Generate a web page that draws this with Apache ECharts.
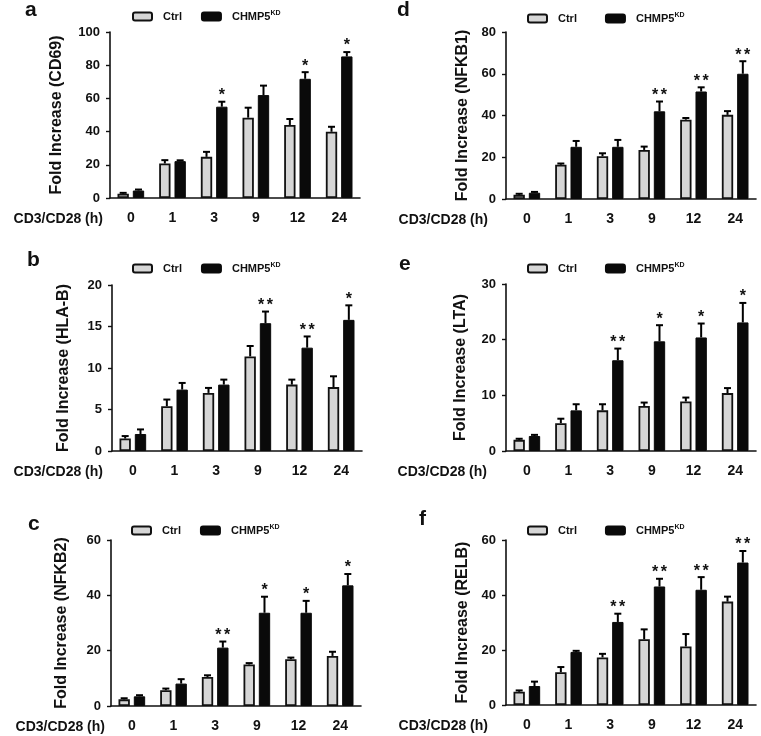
<!DOCTYPE html>
<html>
<head>
<meta charset="utf-8">
<script src="https://cdn.jsdelivr.net/npm/echarts@6/dist/echarts.min.js"></script>
<style>
html,body{margin:0;padding:0;background:#fff;}
#chart{width:761px;height:736px;}
</style>
</head>
<body>
<div id="chart"></div>
<script>
// ---------------- data ----------------
const categories = ['0', '1', '3', '9', '12', '24'];
const seriesNames = ['Ctrl', 'CHMP5'];
const xAxisTitle = 'CD3/CD28 (h)';

// panel a : CD69
const ctrlA = [2.6, 20.8, 24.8, 48.4, 44.0, 39.9];
const ctrlErrA = [0.5, 2.0, 3.0, 6.0, 3.6, 3.0];
const kdA = [4.5, 22.2, 55.0, 62.0, 71.8, 85.3];
const kdErrA = [0.6, 0.5, 3.0, 5.7, 4.0, 2.6];
const starsA = ['', '', '*', '', '*', '*'];

// panel b : HLA-B
const ctrlB = [1.5, 5.4, 7.0, 11.4, 8.0, 7.7];
const ctrlErrB = [0.3, 0.8, 0.6, 1.25, 0.6, 1.3];
const kdB = [2.05, 7.4, 8.0, 15.4, 12.45, 15.8];
const kdErrB = [0.55, 0.8, 0.6, 1.4, 1.35, 1.75];
const starsB = ['', '', '', '**', '**', '*'];

// panel c : NFKB2
const ctrlC = [2.4, 5.7, 10.5, 15.0, 16.9, 18.1];
const ctrlErrC = [0.4, 0.6, 0.6, 0.5, 0.6, 1.5];
const kdC = [3.5, 8.1, 21.1, 33.7, 33.7, 43.6];
const kdErrC = [0.4, 1.6, 2.2, 5.8, 4.3, 4.1];
const starsC = ['', '', '**', '*', '*', '*'];

// panel d : NFKB1
const ctrlD = [2.0, 16.4, 20.5, 23.5, 38.0, 40.3];
const ctrlErrD = [0.5, 0.6, 1.4, 1.6, 0.8, 1.8];
const kdD = [3.0, 25.0, 25.0, 42.0, 51.5, 60.0];
const kdErrD = [0.4, 2.8, 3.3, 4.7, 2.0, 6.0];
const starsD = ['', '', '', '**', '**', '**'];

// panel e : LTA
const ctrlE = [2.0, 5.0, 7.3, 8.1, 8.9, 10.4];
const ctrlErrE = [0.2, 0.8, 1.1, 0.6, 0.7, 0.9];
const kdE = [2.7, 7.3, 16.3, 19.7, 20.4, 23.1];
const kdErrE = [0.2, 1.1, 2.1, 2.9, 2.5, 3.5];
const starsE = ['', '', '**', '*', '*', '*'];

// panel f : RELB
const ctrlF = [4.8, 11.9, 17.3, 23.9, 21.3, 37.6];
const ctrlErrF = [0.5, 1.9, 1.3, 3.6, 4.5, 1.8];
const kdF = [6.9, 19.3, 30.2, 43.1, 41.9, 51.8];
const kdErrF = [1.6, 0.4, 3.0, 2.8, 4.6, 4.2];
const starsF = ['', '', '**', '**', '**', '**'];

const panelLetters = ['a', 'b', 'c', 'd', 'e', 'f'];
const yTitles = ['Fold Increase (CD69)', 'Fold Increase (HLA-B)', 'Fold Increase (NFKB2)',
                 'Fold Increase (NFKB1)', 'Fold Increase (LTA)', 'Fold Increase (RELB)'];
const yMax = [100, 20, 60, 80, 30, 60];
const yInterval = [20, 5, 20, 20, 10, 20];

// ---------------- layout ----------------
const FONT = "'Liberation Sans', Arial, sans-serif";
const CAT_GAP = 0.36, BAR_GAP = 0.35;
const panels = [
  {ctrl: ctrlA, ce: ctrlErrA, kd: kdA, ke: kdErrA, st: starsA,
   grid: {left: 110, top: 32, width: 250, height: 166}, letter: [25, 0], legend: [132, 10, 19], nameGap: 45, xNameGap: 7},
  {ctrl: ctrlB, ce: ctrlErrB, kd: kdB, ke: kdErrB, st: starsB,
   grid: {left: 112, top: 285, width: 250, height: 166}, letter: [27, 250], legend: [132, 262, 19], nameGap: 40, xNameGap: 9},
  {ctrl: ctrlC, ce: ctrlErrC, kd: kdC, ke: kdErrC, st: starsC,
   grid: {left: 111, top: 540, width: 250, height: 166}, letter: [28, 514], legend: [131, 524, 19], nameGap: 41, xNameGap: 6},
  {ctrl: ctrlD, ce: ctrlErrD, kd: kdD, ke: kdErrD, st: starsD,
   grid: {left: 506, top: 32, width: 250, height: 167}, letter: [397, 0], legend: [527, 12, 28], nameGap: 35, xNameGap: 18},
  {ctrl: ctrlE, ce: ctrlErrE, kd: kdE, ke: kdErrE, st: starsE,
   grid: {left: 506, top: 284, width: 250, height: 167}, letter: [399, 254], legend: [527, 262, 28], nameGap: 37, xNameGap: 19},
  {ctrl: ctrlF, ce: ctrlErrF, kd: kdF, ke: kdErrF, st: starsF,
   grid: {left: 506, top: 540, width: 250, height: 165}, letter: [419, 509], legend: [527, 524, 28], nameGap: 35, xNameGap: 18}
];

function errRenderer(side, stars) {
  return function (params, api) {
    const i = api.value(0), v = api.value(1), e = api.value(2);
    const catW = api.size([1, 0])[0];
    const bw = catW * (1 - CAT_GAP) / (2 + BAR_GAP);
    const off = side * bw * (1 + BAR_GAP) / 2;
    const base = api.coord([i, v]);
    const top = api.coord([i, v + e]);
    const x = base[0] + off;
    const children = [
      {type: 'line', shape: {x1: x, y1: base[1], x2: x, y2: top[1]}, style: {stroke: '#000', lineWidth: 2}},
      {type: 'line', shape: {x1: x - 3.5, y1: top[1], x2: x + 3.5, y2: top[1]}, style: {stroke: '#000', lineWidth: 2}}
    ];
    const s = stars ? stars[params.dataIndex] : '';
    for (let k = 0; k < s.length; k++) {
      children.push({
        type: 'text',
        style: {x: x + (k - (s.length - 1) / 2) * 8.7, y: top[1] + 2, text: '*',
                fill: '#111', font: 'bold 16px ' + FONT, align: 'center', verticalAlign: 'bottom'}
      });
    }
    return {type: 'group', children: children};
  };
}

const option = {
  backgroundColor: '#fff',
  animation: false,
  textStyle: {fontFamily: FONT},
  title: [], legend: [], grid: [], xAxis: [], yAxis: [], series: []
};

panels.forEach((p, idx) => {
  option.grid.push(Object.assign({containLabel: false}, p.grid));
  option.title.push({
    text: panelLetters[idx], left: p.letter[0], top: p.letter[1], padding: 0,
    textStyle: {fontSize: 21, fontWeight: 'bold', color: '#111', fontFamily: FONT}
  });
  option.legend.push({
    data: seriesNames, left: p.legend[0], top: p.legend[1], itemGap: p.legend[2],
    itemWidth: 19, itemHeight: 8, icon: 'roundRect', padding: 0, selectedMode: false,
    formatter: n => n === 'CHMP5' ? '{m|CHMP5}{s|KD}' : '{m|' + n + '}',
    textStyle: {
      color: '#111', fontFamily: FONT,
      rich: {
        m: {fontSize: 11, fontWeight: 'bold', color: '#111', padding: [0, 0, 0, 6], fontFamily: FONT},
        s: {fontSize: 7, fontWeight: 'bold', color: '#111', verticalAlign: 'top', padding: [0, 0, 6, 0], fontFamily: FONT}
      }
    }
  });
  option.xAxis.push({
    type: 'category', gridIndex: idx, data: categories,
    name: xAxisTitle, nameLocation: 'start', nameGap: p.xNameGap,
    nameTextStyle: {fontSize: 14, fontWeight: 'bold', color: '#111', align: 'right', verticalAlign: 'top',
                    padding: [14, 0, 0, 0], fontFamily: FONT},
    axisLine: {lineStyle: {color: '#111', width: 1.6}},
    axisTick: {alignWithLabel: true, length: 4, lineStyle: {color: '#111', width: 1.4}},
    axisLabel: {fontSize: 14, fontWeight: 'bold', color: '#111', margin: 13, fontFamily: FONT}
  });
  option.yAxis.push({
    type: 'value', gridIndex: idx, min: 0, max: yMax[idx], interval: yInterval[idx],
    name: yTitles[idx], nameLocation: 'middle', nameGap: p.nameGap,
    nameTextStyle: {fontSize: 16, fontWeight: 'bold', color: '#111', fontFamily: FONT},
    axisLine: {show: true, lineStyle: {color: '#111', width: 1.6}},
    axisTick: {show: true, length: 4, lineStyle: {color: '#111', width: 1.4}},
    splitLine: {show: false},
    axisLabel: {fontSize: 13, fontWeight: 'bold', color: '#111', margin: 10, fontFamily: FONT}
  });
  option.series.push({
    name: 'Ctrl', type: 'bar', xAxisIndex: idx, yAxisIndex: idx, data: p.ctrl,
    barGap: (BAR_GAP * 100) + '%', barCategoryGap: (CAT_GAP * 100) + '%',
    itemStyle: {color: '#d6d6d6', borderColor: '#111', borderWidth: 1.8}
  });
  option.series.push({
    name: 'CHMP5', type: 'bar', xAxisIndex: idx, yAxisIndex: idx, data: p.kd,
    barGap: (BAR_GAP * 100) + '%', barCategoryGap: (CAT_GAP * 100) + '%',
    itemStyle: {color: '#0a0a0a', borderColor: '#0a0a0a', borderWidth: 1}
  });
  option.series.push({
    type: 'custom', xAxisIndex: idx, yAxisIndex: idx, z: 5,
    renderItem: errRenderer(-1, null),
    encode: {x: 0, y: 1},
    data: p.ctrl.map((v, i) => [i, v, p.ce[i]])
  });
  option.series.push({
    type: 'custom', xAxisIndex: idx, yAxisIndex: idx, z: 5,
    renderItem: errRenderer(1, p.st),
    encode: {x: 0, y: 1},
    data: p.kd.map((v, i) => [i, v, p.ke[i]])
  });
});

const chart = echarts.init(document.getElementById('chart'), null, {renderer: 'canvas'});
chart.setOption(option);
</script>
</body>
</html>
